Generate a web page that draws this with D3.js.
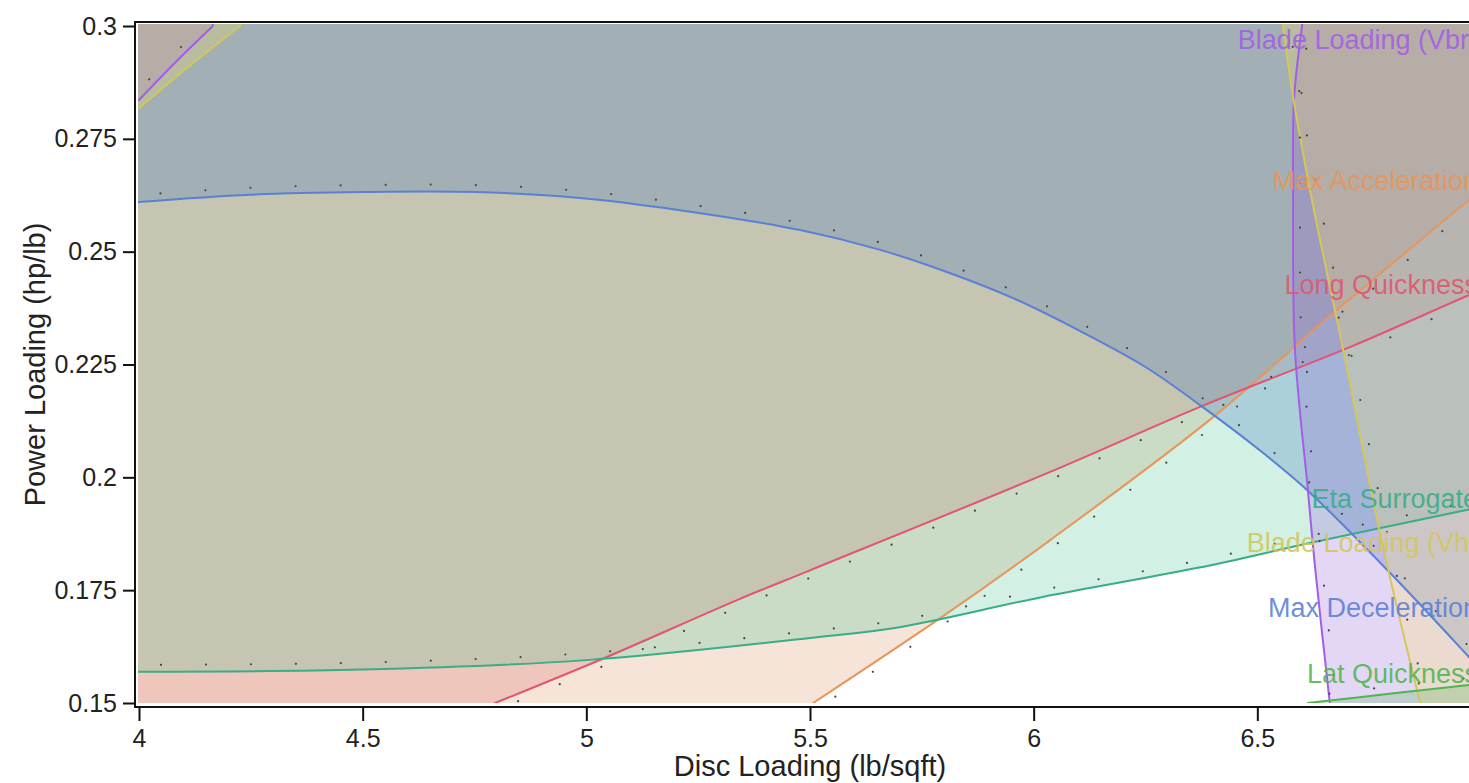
<!DOCTYPE html>
<html>
<head>
<meta charset="utf-8">
<script src="https://cdn.jsdelivr.net/npm/d3@7"></script>
<style>
html, body { margin:0; padding:0; background:#ffffff; overflow:hidden; width:1469px; height:783px; }
text { font-family: "Liberation Sans", Arial, Helvetica, sans-serif; }
</style>
</head>
<body>
<svg id="chart" width="1500" height="783"></svg>
<script>
// ---------------- data ----------------
const xTickValues = [4, 4.5, 5, 5.5, 6, 6.5, 7];
const xTickLabels = ["4", "4.5", "5", "5.5", "6", "6.5", "7"];
const yTickValues = [0.15, 0.175, 0.2, 0.225, 0.25, 0.275, 0.3];
const yTickLabels = ["0.15", "0.175", "0.2", "0.225", "0.25", "0.275", "0.3"];

const seriesNames = ["Blade Loading (Vbr)", "Max Acceleration", "Long Quickness",
  "Eta Surrogate", "Blade Loading (Vh)", "Max Deceleration", "Lat Quickness"];

// Max Deceleration contour
const maxDecelX = [4.0, 4.248, 4.5, 4.751, 4.986, 5.209, 5.478, 5.657, 5.806, 5.954, 6.104, 6.249, 6.372, 6.499, 6.611, 6.797, 6.973, 7.0];
const maxDecelY = [0.2610, 0.2626, 0.2632, 0.2632, 0.2619, 0.2592, 0.2548, 0.2504, 0.2455, 0.2397, 0.2324, 0.2245, 0.2160, 0.2065, 0.1972, 0.1788, 0.1602, 0.1573];
// Eta Surrogate contour
const etaX = [4.0, 4.5, 5.0, 5.5, 5.7, 6.02, 6.37, 6.62, 6.97, 7.0];
const etaY = [0.1569, 0.1574, 0.1595, 0.1644, 0.1668, 0.1735, 0.1800, 0.1855, 0.1928, 0.1934];
// Long Quickness contour
const longQX = [4.796, 5.046, 5.337, 5.5, 6.037, 6.372, 6.708, 6.974, 7.0];
const longQY = [0.1500, 0.1602, 0.1728, 0.1794, 0.2012, 0.2156, 0.2289, 0.2404, 0.2414];
// Max Acceleration contour
const maxAccX = [5.507, 5.791, 6.037, 6.402, 6.67, 6.974, 7.0];
const maxAccY = [0.1500, 0.1688, 0.1861, 0.2134, 0.2364, 0.2615, 0.2636];
// Blade Loading (Vbr) contours
const vbrRightX = [6.600, 6.582, 6.580, 6.584, 6.613, 6.629, 6.662];
const vbrRightY = [0.3000, 0.2836, 0.2615, 0.2285, 0.1972, 0.1801, 0.1500];
const vbrCornerX = [4.0, 4.08, 4.165];
const vbrCornerY = [0.2836, 0.2918, 0.3000];
// Blade Loading (Vh) contours
const vhRightX = [6.557, 6.580, 6.622, 6.692, 6.774, 6.864];
const vhRightY = [0.3000, 0.2843, 0.2615, 0.2282, 0.1877, 0.1500];
const vhCornerX = [4.0, 4.11, 4.226];
const vhCornerY = [0.2818, 0.2909, 0.3000];
// Lat Quickness contour
const latQX = [6.614, 6.80, 6.974, 7.0];
const latQY = [0.1500, 0.1521, 0.1540, 0.1543];

// ---------------- layout / style ----------------
const x = d3.scaleLinear().domain([4, 7]).range([139, 1481]);
const y = d3.scaleLinear().domain([0.15, 0.3]).range([703, 26]);
const [xMin, xMax] = x.domain();
const [yMin, yMax] = y.domain();

const svg = d3.select("#chart");
const defs = svg.append("defs");
defs.append("clipPath").attr("id", "plotClip").append("rect")
  .attr("x", x(xMin) - 1).attr("y", y(yMax) - 2)
  .attr("width", x(xMax) - x(xMin) + 2).attr("height", y(yMin) - y(yMax) + 2);

const L = x(xMin) - 12, R = x(xMax) + 12, T = y(yMax) - 12, B = y(yMin) + 12;
const corners = { TL: [L, T], TR: [R, T], BL: [L, B], BR: [R, B] };

const style = {
  "Max Acceleration":   { line: "#e8955c", fill: "rgb(215,147,95)" },
  "Long Quickness":     { line: "#e05672", fill: "rgb(225,108,107)" },
  "Eta Surrogate":      { line: "#38ad88", fill: "rgb(75,195,147)" },
  "Max Deceleration":   { line: "#5a80d6", fill: "rgb(55,113,186)" },
  "Blade Loading (Vbr)":{ line: "#a35ee6", fill: "rgb(147,91,215)" },
  "Blade Loading (Vh)": { line: "#d3c65a", fill: "rgb(251,232,100)" },
  "Lat Quickness":      { line: "#4fb64f", fill: "rgb(80,180,80)" }
};
const fillOpacity = 0.25;

const zip = (xs, ys) => xs.map((v, i) => [v, ys[i]]);
// draw order of the shaded contour pieces
const pieces = [
  { name: seriesNames[1], pts: zip(maxAccX, maxAccY), close: ["TR", "TL", "BL"], dotSide: -1 },
  { name: seriesNames[2], pts: zip(longQX, longQY), close: ["TR", "TL", "BL"], dotSide: -1 },
  { name: seriesNames[3], pts: zip(etaX, etaY), close: ["TR", "TL"], dotSide: 1 },
  { name: seriesNames[5], pts: zip(maxDecelX, maxDecelY), close: ["TR", "TL"], dotSide: 1 },
  { name: seriesNames[0], pts: zip(vbrRightX, vbrRightY), close: ["BR", "TR"], dotSide: 1 },
  { name: seriesNames[0], pts: zip(vbrCornerX, vbrCornerY), close: ["TL"], dotSide: 1 },
  { name: seriesNames[4], pts: zip(vhRightX, vhRightY), close: ["BR", "TR"], dotSide: 1 },
  { name: seriesNames[4], pts: zip(vhCornerX, vhCornerY), close: ["TL"], dotSide: 0 },
  { name: seriesNames[6], pts: zip(latQX, latQY), close: ["BR"], dotSide: 1 }
];

// label baselines (value units on y) at right side of plot
const labelBaseline = {
  "Blade Loading (Vbr)": 0.2949, "Max Acceleration": 0.2637, "Long Quickness": 0.2406,
  "Eta Surrogate": 0.1932, "Blade Loading (Vh)": 0.1835, "Max Deceleration": 0.1691,
  "Lat Quickness": 0.1544
};

const lineGen = d3.line().x(d => x(d[0])).y(d => y(d[1])).curve(d3.curveCatmullRom.alpha(0.5));

function edgeExt(p) {
  const px = x(p[0]), py = y(p[1]);
  if (p[0] <= xMin + 1e-9) return [L, py];
  if (p[0] >= xMax - 1e-9) return [R, py];
  if (p[1] <= yMin + 1e-9) return [px, B];
  if (p[1] >= yMax - 1e-9) return [px, T];
  return [px, py];
}

const plot = svg.append("g").attr("clip-path", "url(#plotClip)");
const fillG = plot.append("g");
const lineG = plot.append("g");
const dotG = plot.append("g");

pieces.forEach(pc => {
  const base = lineGen(pc.pts);
  const s = edgeExt(pc.pts[0]);
  const e = edgeExt(pc.pts[pc.pts.length - 1]);
  let area = base + "L" + e.join(",");
  pc.close.forEach(c => { area += "L" + corners[c].join(","); });
  area += "L" + s.join(",") + "Z";
  fillG.append("path").attr("d", area)
    .attr("fill", style[pc.name].fill).attr("fill-opacity", fillOpacity).attr("stroke", "none");
});

pieces.forEach(pc => {
  const base = lineGen(pc.pts);
  const s = edgeExt(pc.pts[0]);
  const e = edgeExt(pc.pts[pc.pts.length - 1]);
  const d = "M" + s.join(",") + "L" + base.slice(1) + "L" + e.join(",");
  lineG.append("path").attr("d", d).attr("fill", "none")
    .attr("stroke", style[pc.name].line).attr("stroke-width", 2);

  if (pc.dotSide !== 0) {
    const tmp = dotG.append("path").attr("d", base).attr("fill", "none").attr("stroke", "none");
    const node = tmp.node();
    const len = node.getTotalLength();
    const step = 45, off = 7;
    for (let l = 22; l < len; l += step) {
      const p0 = node.getPointAtLength(Math.max(0, l - 1));
      const p1 = node.getPointAtLength(Math.min(len, l + 1));
      const p = node.getPointAtLength(l);
      let dx = p1.x - p0.x, dy = p1.y - p0.y;
      const n = Math.hypot(dx, dy) || 1;
      dx /= n; dy /= n;
      dotG.append("circle")
        .attr("cx", p.x + pc.dotSide * dy * off)
        .attr("cy", p.y - pc.dotSide * dx * off)
        .attr("r", 1.1).attr("fill", "#444");
    }
    tmp.remove();
  }
});

// labels
const labelG = svg.append("g").attr("clip-path", "url(#plotClip)");
seriesNames.forEach(nm => {
  labelG.append("text")
    .attr("x", x(xMax) - 3).attr("y", y(labelBaseline[nm]))
    .attr("text-anchor", "end").attr("font-size", 27)
    .attr("fill", style[nm].line).attr("fill-opacity", 0.9).text(nm);
});

// frame
const frameL = x(xMin) - 4, frameT = y(yMax) - 4, frameB = y(yMin) + 4;
svg.append("rect").attr("x", frameL).attr("y", frameT)
  .attr("width", x(xMax) + 4 - frameL).attr("height", frameB - frameT)
  .attr("fill", "none").attr("stroke", "#111").attr("stroke-width", 2);

// axes
const yAxis = d3.axisLeft(y).tickValues(yTickValues)
  .tickFormat((d, i) => yTickLabels[i]).tickSize(12).tickPadding(6);
const gy = svg.append("g").attr("transform", `translate(${frameL},0)`).call(yAxis);
const xAxis = d3.axisBottom(x).tickValues(xTickValues)
  .tickFormat((d, i) => xTickLabels[i]).tickSize(14).tickPadding(8);
const gx = svg.append("g").attr("transform", `translate(0,${frameB})`).call(xAxis);
[gx, gy].forEach(g => {
  g.select(".domain").remove();
  g.selectAll(".tick line").attr("stroke", "#111").attr("stroke-width", 2);
  g.selectAll(".tick text").attr("font-size", 25).attr("fill", "#222")
    .style("font-family", '"Liberation Sans", Arial, Helvetica, sans-serif');
});

// titles
svg.append("text").attr("x", (x(xMin) + x(xMax)) / 2).attr("y", 776)
  .attr("text-anchor", "middle").attr("font-size", 29).attr("fill", "#222")
  .text("Disc Loading (lb/sqft)");
svg.append("text").attr("transform", `translate(45,${(y(yMin) + y(yMax)) / 2}) rotate(-90)`)
  .attr("text-anchor", "middle").attr("font-size", 29).attr("fill", "#222")
  .text("Power Loading (hp/lb)");
</script>
</body>
</html>
